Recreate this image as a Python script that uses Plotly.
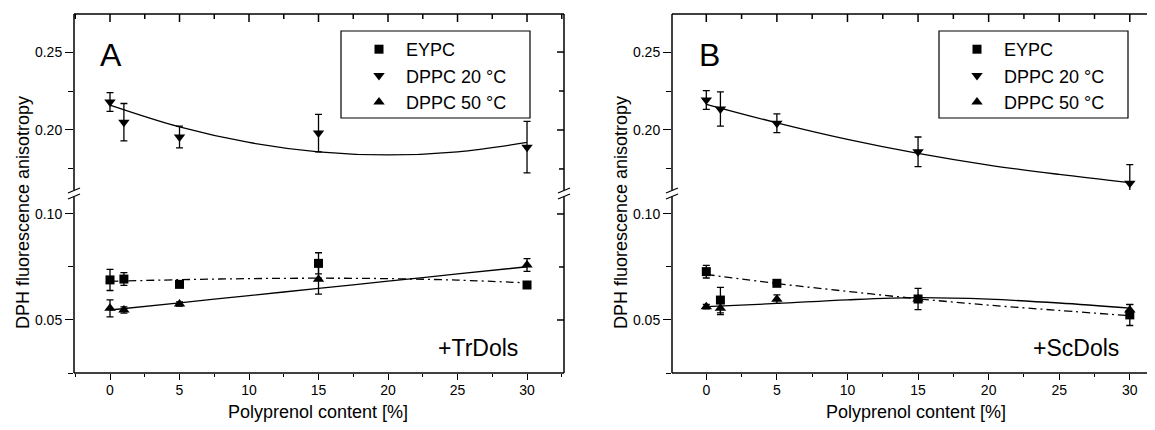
"""
DPH fluorescence anisotropy vs polyprenol content, two panels with broken y axes.
"""

import math

import plotly.graph_objects as go

W, H = 1155, 430
OFF = 8  # the page body has an 8px margin, shift everything back by that much
FONT = "Liberation Sans, Arial, sans-serif"

# measured points
x_vals = [0, 1, 5, 15, 30]

eypc_a = [0.0689, 0.0693, 0.0668, 0.0767, 0.0665]
eypc_a_err = [0.005, 0.003, 0.001, 0.005, 0.001]
dppc20_a = [0.218, 0.205, 0.1955, 0.198, 0.189]
dppc20_a_err = [0.006, 0.012, 0.007, 0.012, 0.0165]
dppc50_a = [0.0555, 0.0547, 0.0575, 0.0692, 0.0759]
dppc50_a_err = [0.004, 0.0015, 0.001, 0.007, 0.003]

eypc_b = [0.0728, 0.0594, 0.0673, 0.0599, 0.0524]
eypc_b_err = [0.003, 0.006, 0.001, 0.005, 0.005]
dppc20_b = [0.2192, 0.2135, 0.2043, 0.186, 0.1658]
dppc20_b_err = [0.006, 0.011, 0.006, 0.0095, 0.012]
dppc50_b = [0.0563, 0.0555, 0.0598, 0.0599, 0.0547]
dppc50_b_err = [0.001, 0.003, 0.002, 0.001, 0.0025]

# fitted curves
fit_x = [0, 5, 10, 15, 20, 25, 30]
fit_eypc_a = [0.0682, 0.0690, 0.0695, 0.0697, 0.0695, 0.0688, 0.0675]
fit_dppc20_a = [0.216, 0.202, 0.192, 0.186, 0.184, 0.186, 0.192]
fit_dppc50_a = [0.0547, 0.0581, 0.0615, 0.0649, 0.0683, 0.0717, 0.0751]
fit_eypc_b = [0.0715, 0.0672, 0.0635, 0.0600, 0.0570, 0.0545, 0.0520]
fit_dppc20_b = [0.2165, 0.2046, 0.1940, 0.1850, 0.1775, 0.1715, 0.1662]
fit_dppc50_b = [0.0563, 0.0578, 0.0595, 0.0605, 0.0598, 0.0580, 0.0556]

series_names = ["EYPC", "DPPC 20 °C", "DPPC 50 °C"]
panel_letters = ["A", "B"]
panel_tags = ["+TrDols", "+ScDols"]
x_title = "Polyprenol content [%]"
y_title = "DPH fluorescence anisotropy"

upper_range = [0.1615, 0.2744]
lower_range = [0.025, 0.108]

# pixel rows of the two y segments (reference picture coordinates)
UP_TOP, UP_BOT = 14, 190
LO_TOP, LO_BOT = 197, 373


def px(p):
    return (p - OFF) / W


def py(p):
    return 1 - (p - OFF) / H


def axname(a):
    return ("xaxis" if a[0] == "x" else "yaxis") + a[1:]


def steps(lo, hi, step, major):
    """Tick values strictly inside (lo, hi), flagged major/minor."""
    out = []
    k = math.ceil(lo / step - 1e-9)
    while k * step < hi - 1e-9:
        v = round(k * step, 6)
        if v > lo + 1e-9:
            out.append((v, abs(v / major - round(v / major)) < 1e-6))
        k += 1
    return out


def add_panel(fig, n, left, right, xrange, data, fits, legend_id):
    xb = "x" if n == 0 else f"x{n + 1}"
    yu = "y" if n == 0 else f"y{2 * n + 1}"
    yl = f"y{2 * n + 2}"

    up_dom = [py(UP_BOT), py(UP_TOP)]
    lo_dom = [py(LO_BOT), py(LO_TOP)]
    x_right = min(right, W + OFF)
    xdom = [px(left), px(x_right)]

    base = dict(showgrid=False, zeroline=False, showline=False, tickcolor="black",
                tickwidth=1.3, tickfont=dict(family=FONT, size=14, color="black"))

    def minor(step):
        return dict(dtick=step, ticks="outside", ticklen=3 if step > 1 else 5,
                    tickcolor="black", tickwidth=1.3)

    fig.layout[axname(xb)] = dict(base, domain=xdom, range=xrange, tick0=0, dtick=5,
                                  anchor=yl, side="bottom", ticks="outside", ticklen=6,
                                  ticklabelstandoff=-2, minor=minor(2.5))
    for ya, dom, rng in ((yu, up_dom, upper_range), (yl, lo_dom, lower_range)):
        fig.layout[axname(ya)] = dict(base, domain=dom, range=rng, tick0=0, dtick=0.05,
                                      tickformat=".2f", anchor=xb, ticks="outside",
                                      ticklen=8, minor=minor(0.025))

    # inward ticks on the top and right edges, drawn as short line segments,
    # lengths converted from pixels to data units
    per_px_x = (xrange[1] - xrange[0]) / (x_right - left)
    per_px_up = (upper_range[1] - upper_range[0]) / (UP_BOT - UP_TOP)
    top = upper_range[1]
    tx, ty = [], []
    for v, major in steps(xrange[0], xrange[1], 2.5, 5):
        tx += [v, v, None]
        ty += [top, top - (8 if major else 5) * per_px_up, None]
    fig.add_trace(go.Scatter(x=tx, y=ty, mode="lines", xaxis=xb, yaxis=yu,
                             line=dict(color="black", width=1.5),
                             showlegend=False, hoverinfo="skip"))
    for ya, rng in ((yu, upper_range), (yl, lower_range)):
        rx, ry = [], []
        for v, major in steps(rng[0], rng[1], 0.025, 0.05):
            rx += [xrange[1], xrange[1] - (7 if major else 5) * per_px_x, None]
            ry += [v, v, None]
        fig.add_trace(go.Scatter(x=rx, y=ry, mode="lines", xaxis=xb, yaxis=ya,
                                 line=dict(color="black", width=1.5),
                                 showlegend=False, hoverinfo="skip"))

    # fits first, so the markers sit on top
    dashes = ["8px,4px,2px,4px", "solid", "solid"]
    for i, fy in enumerate(fits):
        fig.add_trace(go.Scatter(
            x=fit_x, y=fy, mode="lines",
            line=dict(color="black", width=1.3, dash=dashes[i], shape="spline"),
            xaxis=xb, yaxis=yu if i == 1 else yl, showlegend=False, hoverinfo="skip",
        ))

    symbols = ["square", "triangle-down", "triangle-up"]
    sizes = [9, 10, 10]
    for i, (vals, errs) in enumerate(data):
        fig.add_trace(go.Scatter(
            x=x_vals, y=vals, mode="markers", name=series_names[i],
            marker=dict(symbol=symbols[i], size=sizes[i], color="black"),
            error_y=dict(type="data", array=errs, color="black", thickness=1.3, width=3.5),
            xaxis=xb, yaxis=yu if i == 1 else yl, legend=legend_id,
        ))

    # frame around each segment, open at the break
    frame = dict(type="line", xref=f"{xb} domain", line=dict(color="black", width=1.5))
    for ya in (yu, yl):
        fig.add_shape(frame, yref=f"{ya} domain", x0=0, x1=0, y0=0, y1=1)
        fig.add_shape(frame, yref=f"{ya} domain", x0=1, x1=1, y0=0, y1=1)
    fig.add_shape(frame, yref=f"{yu} domain", x0=0, x1=1, y0=1, y1=1)
    fig.add_shape(frame, yref=f"{yl} domain", x0=0, x1=1, y0=0, y1=0)

    # axis break marks on both sides
    for edge in (left, right):
        for yb in (UP_BOT + 0.5, LO_TOP - 0.5):
            fig.add_shape(type="line", xref="paper", yref="paper",
                          x0=px(edge - 6), y0=py(yb + 2.5), x1=px(edge + 6), y1=py(yb - 2.5),
                          line=dict(color="black", width=1.2))

    # legend frame
    fig.add_shape(type="rect", xref="paper", yref="paper",
                  x0=px(left + 267), x1=px(left + 456), y0=py(118), y1=py(31),
                  line=dict(color="black", width=1.2))

    fig.layout[legend_id] = dict(
        x=px(left + 278), xanchor="left", y=py(31), yanchor="top",
        bgcolor="rgba(0,0,0,0)", borderwidth=0, itemwidth=44,
        font=dict(family=FONT, size=18, color="black"),
    )

    def label(x, y, text, size, angle=0):
        fig.add_annotation(x=px(x), y=py(y), xref="paper", yref="paper", text=text,
                           showarrow=False, xanchor="center", yanchor="middle",
                           textangle=angle, font=dict(family=FONT, size=size, color="black"))

    label(left + 37, 55, panel_letters[n], 32)
    label(left + 404, 348, panel_tags[n], 23)
    label(left - 51, 213, y_title, 18, angle=-90)
    label(left + 244, 412, x_title, 18)


def main():
    fig = go.Figure()

    add_panel(fig, 0, 74, 564, [-2.59, 32.66],
              [(eypc_a, eypc_a_err), (dppc20_a, dppc20_a_err), (dppc50_a, dppc50_a_err)],
              [fit_eypc_a, fit_dppc20_a, fit_dppc50_a], "legend")
    add_panel(fig, 1, 672, 1160, [-2.43, 32.14],
              [(eypc_b, eypc_b_err), (dppc20_b, dppc20_b_err), (dppc50_b, dppc50_b_err)],
              [fit_eypc_b, fit_dppc20_b, fit_dppc50_b], "legend2")

    fig.update_layout(
        width=W, height=H,
        margin=dict(l=0, r=0, t=0, b=0),
        paper_bgcolor="white", plot_bgcolor="rgba(0,0,0,0)",
        font=dict(family=FONT, color="black"),
        showlegend=True,
    )

    fig.write_html("out.html")


if __name__ == "__main__":
    main()
